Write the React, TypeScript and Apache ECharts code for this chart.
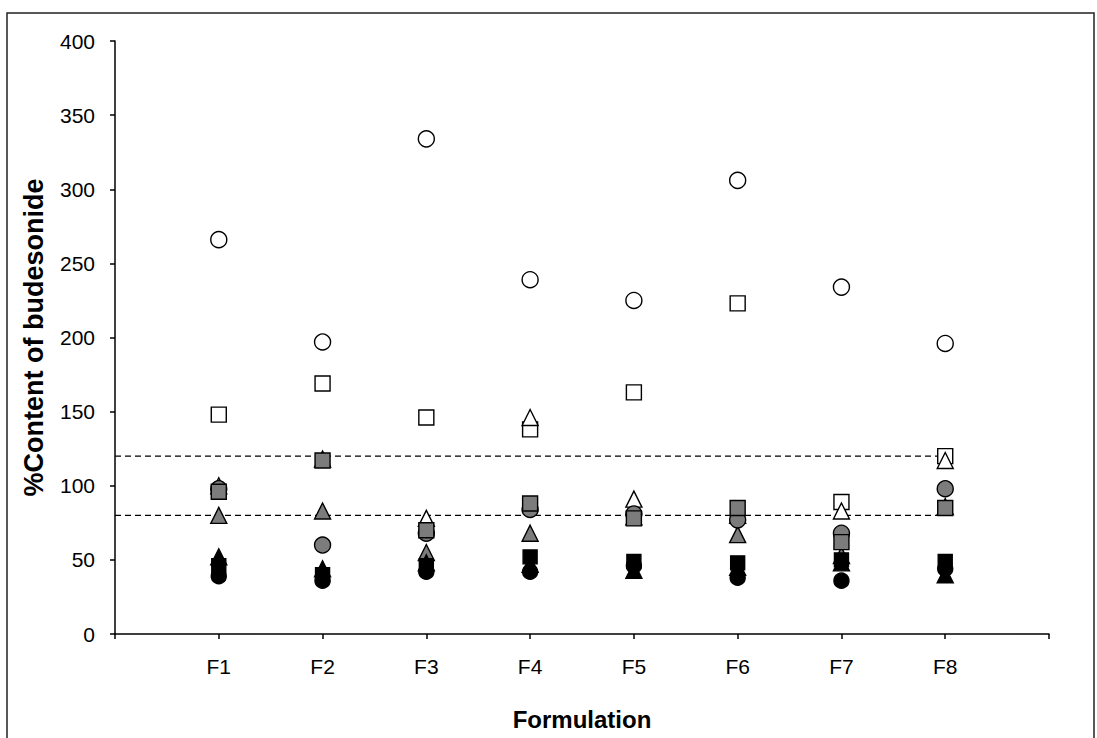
import React, { useEffect, useRef } from "react";
import * as echarts from "echarts";

const formulations = ["F1", "F2", "F3", "F4", "F5", "F6", "F7", "F8"];
const yTicks = [0, 50, 100, 150, 200, 250, 300, 350, 400];

// open markers
const openCircle = [266, 197, 334, 239, 225, 306, 234, 196];
const openSquare = [148, 169, 146, 138, 163, 223, 89, 120];
const openTriangle = [100, 118, 78, 146, 91, 80, 83, 117];
// hatched markers
const hatchTriangle = [80, 83, 55, 68, 79, 67, 53, 86];
const hatchCircle = [98, 60, 68, 84, 81, 77, 68, 98];
const hatchSquare = [96, 117, 70, 88, 78, 85, 62, 85];
// filled markers
const filledTriangle = [52, 44, 48, 47, 43, 45, 48, 40];
const filledCircle = [39, 36, 42, 42, 46, 38, 36, 44];
const filledSquare = [46, 40, 46, 52, 49, 48, 50, 49];

const limitUpper = 120;
const limitLower = 80;

const toPoints = (vals: number[]) => vals.map((v, i) => [i + 1, v]);

export default function App() {
  const ref = useRef<HTMLDivElement>(null);
  useEffect(() => {
    const chart = echarts.init(ref.current!, null, { renderer: "svg" });
    const mk = (name: string, data: number[], symbol: string, size: any, color: string) => ({
      name,
      type: "scatter",
      data: toPoints(data),
      symbol,
      symbolSize: size,
      itemStyle: { color, borderColor: "#000", borderWidth: 1.4, opacity: 1 },
      emphasis: { disabled: true },
      z: 3,
    });
    const tri = [16, 16];
    const sq = 15;
    const ci = 16;
    const hatchGray = "#7c7c7c";
    chart.setOption({
      animation: false,
      grid: { left: 115, right: 48, top: 41, bottom: 104 },
      graphic: [
        {
          type: "rect",
          shape: { x: 7, y: 13, width: 1087, height: 740 },
          style: { fill: "none", stroke: "#222", lineWidth: 1.5 },
          silent: true,
        },
      ],
      xAxis: {
        type: "value",
        min: 0,
        max: 9,
        interval: 1,
        name: "Formulation",
        nameLocation: "middle",
        nameGap: 73,
        nameTextStyle: { fontFamily: "Liberation Sans, Arial, sans-serif", fontWeight: "bold", fontSize: 24, color: "#000" },
        axisLine: { show: true, lineStyle: { color: "#000", width: 1.5 } },
        axisTick: { show: true, length: 5, lineStyle: { color: "#000", width: 1.5 } },
        axisLabel: {
          margin: 22,
          fontFamily: "Liberation Sans Narrow, Arial Narrow, Liberation Sans, sans-serif",
          fontSize: 21,
          color: "#000",
          formatter: (v: number) => (v >= 1 && v <= formulations.length ? formulations[v - 1] : ""),
        },
        splitLine: { show: false },
      },
      yAxis: {
        type: "value",
        min: yTicks[0],
        max: yTicks[yTicks.length - 1],
        interval: 50,
        name: "%Content of budesonide",
        nameLocation: "middle",
        nameGap: 68,
        nameTextStyle: { fontFamily: "Liberation Sans, Arial, sans-serif", fontWeight: "bold", fontSize: 27, color: "#000" },
        axisLine: { show: true, lineStyle: { color: "#000", width: 1.5 } },
        axisTick: { show: true, length: 5, lineStyle: { color: "#000", width: 1.5 } },
        axisLabel: {
          margin: 20,
          fontFamily: "Liberation Sans Narrow, Arial Narrow, Liberation Sans, sans-serif",
          fontSize: 21,
          color: "#000",
        },
        splitLine: { show: false },
      },
      series: [
        {
          type: "line",
          data: [[0, limitUpper], [formulations.length, limitUpper]],
          symbol: "none",
          lineStyle: { color: "#000", width: 1.4, type: [6, 4] },
          z: 1,
        },
        {
          type: "line",
          data: [[0, limitLower], [formulations.length, limitLower]],
          symbol: "none",
          lineStyle: { color: "#000", width: 1.4, type: [6, 4] },
          z: 1,
        },
        mk("openCircle", openCircle, "circle", ci, "#fff"),
        mk("openSquare", openSquare, "rect", sq, "#fff"),
        mk("openTriangle", openTriangle, "triangle", tri, "#fff"),
        mk("hatchTriangle", hatchTriangle, "triangle", tri, hatchGray),
        mk("hatchCircle", hatchCircle, "circle", ci, hatchGray),
        mk("hatchSquare", hatchSquare, "rect", sq, hatchGray),
        mk("filledTriangle", filledTriangle, "triangle", tri, "#000"),
        mk("filledCircle", filledCircle, "circle", 15, "#000"),
        mk("filledSquare", filledSquare, "rect", 14, "#000"),
      ],
    });
    return () => chart.dispose();
  }, []);
  return (
    <div
      ref={ref}
      style={{ position: "fixed", left: 0, top: 0, width: 1097, height: 738, background: "#fff" }}
    />
  );
}
